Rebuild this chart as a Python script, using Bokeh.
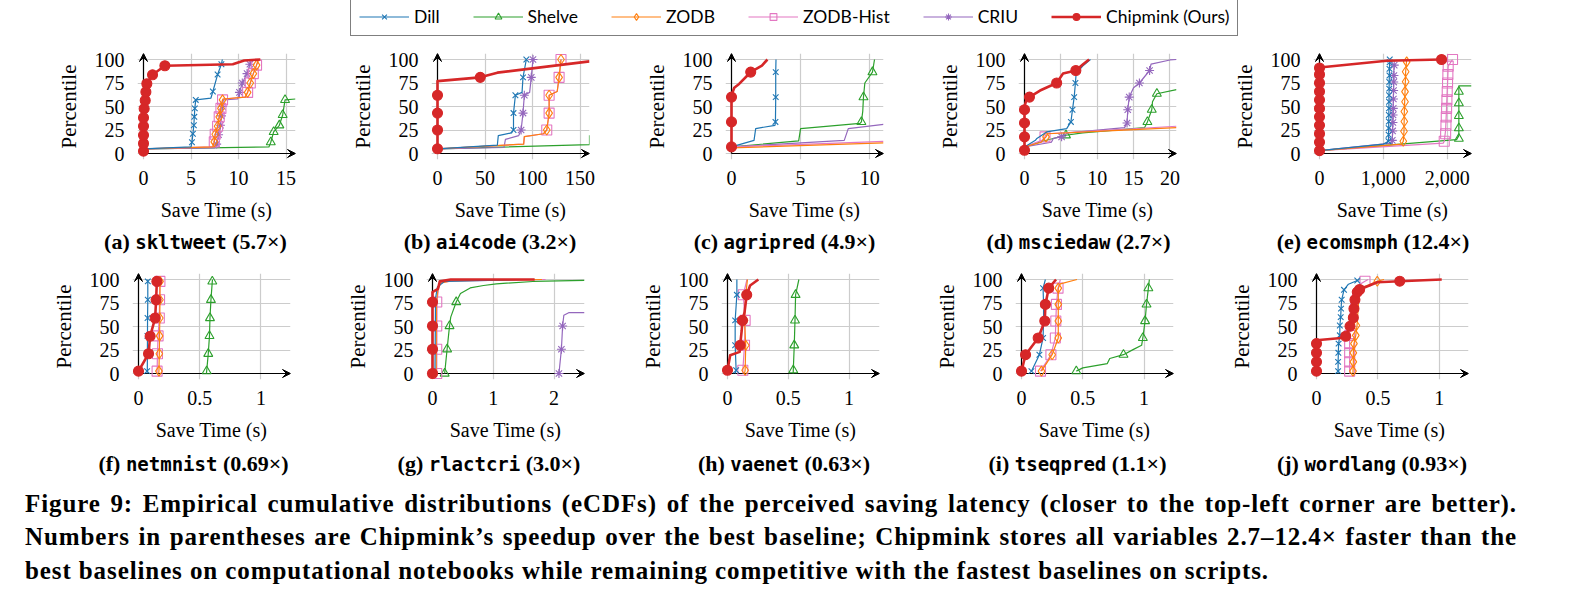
from bokeh.plotting import figure
from bokeh.models import (Range1d, FixedTicker, PrintfTickFormatter, NumeralTickFormatter,
                          Arrow, VeeHead, Legend, LegendItem, Div, Spacer)
from bokeh.layouts import row, column
from bokeh.embed import file_html
from bokeh.resources import INLINE

# ---------------- data ----------------
Y_TICKS = [0, 25, 50, 75, 100]

# (a) skltweet
A_XMAX = 16.0
A_XTICKS = [0, 5, 10, 15]
A_CHIP = ([0, 0, 0.07, 0.18, 0.25, 0.35, 0.95, 2.25, 9.4, 10.6, 12.3],
          [2.5, 38, 47.7, 56.5, 65.4, 74.2, 83.7, 93.3, 95, 99, 100])
A_CHIP_M = ([0, 0, 0, 0, 0, 0.07, 0.18, 0.25, 0.35, 0.95, 2.25],
            [2.5, 10.6, 19.4, 29, 38, 47.7, 56.5, 65.4, 74.2, 83.7, 93.3])
A_DILL = ([0, 5.0, 5.1, 5.2, 5.3, 5.35, 5.4, 5.5, 7.1, 7.3, 7.8, 8.2, 8.3],
          [5, 7, 12, 21, 30, 39, 48, 57, 59, 66, 84, 95, 100])
A_DILL_M = ([5.1, 5.2, 5.3, 5.35, 5.4, 5.5, 7.3, 7.8, 8.2],
            [12, 21, 30, 39, 48, 57, 66, 84, 95])
A_ZODB = ([0, 7.3, 7.45, 7.55, 7.8, 7.97, 8.15, 8.32, 8.4, 10.7, 10.96, 11.24, 11.56, 11.9, 12.1],
          [5, 7, 12.4, 20.5, 29, 39, 48, 57, 58, 60, 65, 75, 85, 94, 100])
A_ZODB_M = ([7.45, 7.55, 7.8, 7.97, 8.15, 8.32, 10.96, 11.24, 11.56, 11.9],
            [12.4, 20.5, 29, 39, 48, 57, 65, 75, 85, 94])
A_HIST = ([0, 7.3, 7.45, 7.55, 7.8, 7.97, 8.15, 8.32, 8.4, 10.7, 10.96, 11.24, 11.56, 11.9, 12.1],
          [5, 7, 12.4, 20.5, 29, 39, 48, 57, 58, 60, 65, 75, 85, 94, 100])
A_HIST_M = ([7.45, 7.55, 7.8, 7.97, 8.15, 8.32, 10.96, 11.24, 11.56, 11.9],
            [12.4, 20.5, 29, 39, 48, 57, 65, 75, 85, 94])
A_CRIU = ([0, 7.5, 7.7, 7.9, 8.1, 8.2, 8.3, 8.4, 9.9, 10.1, 10.4, 10.9, 11.2, 11.4],
          [5, 6, 10, 20, 30, 40, 50, 57, 58, 65, 75, 85, 95, 100])
A_CRIU_M = ([7.7, 7.9, 8.1, 8.2, 8.3, 10.1, 10.4, 10.9, 11.2],
            [10, 20, 30, 40, 50, 65, 75, 85, 95])
A_SHELVE = ([0, 13.2, 13.4, 13.7, 14.3, 14.65, 14.9, 16.0],
            [5, 7, 12, 23, 30, 41, 57, 58])
A_SHELVE_M = ([13.4, 13.7, 14.3, 14.65, 14.9], [12, 23, 30, 41, 57])

# (b) ai4code
B_XMAX = 160.0
B_XTICKS = [0, 50, 100, 150]
B_CHIP = ([0, 0, 45, 63, 160], [5, 77, 81, 86, 98])
B_CHIP_M = ([0, 0, 0, 0, 45], [5, 25, 43, 62, 81])
B_DILL = ([0, 63, 64, 78, 80, 80, 82, 89, 90, 93.5], [5, 9, 19, 22, 25, 43, 62, 65, 81, 100])
B_DILL_M = ([80, 80, 82, 90, 93.5], [25, 43, 62, 81, 100])
B_CRIU = ([0, 70, 71.5, 85.5, 88, 90, 91.4, 97, 98.7, 100.5], [5, 6.4, 15, 19, 25, 43, 62, 65, 81, 100])
B_CRIU_M = ([88, 90, 91.4, 98.7, 100.5], [25, 43, 62, 81, 100])
B_ZODB = ([0, 90.7, 91.4, 111.6, 115, 117.5, 117.5, 126, 128, 130], [5, 10, 18, 21, 25, 43, 62, 66, 81, 100])
B_ZODB_M = ([115, 117.5, 117.5, 128, 130], [25, 43, 62, 81, 100])
B_HIST = ([0, 90.7, 91.4, 111.6, 115, 117.5, 117.5, 126, 128, 130], [5, 10, 18, 21, 25, 43, 62, 66, 81, 100])
B_HIST_M = ([115, 117.5, 117.5, 128, 130], [25, 43, 62, 81, 100])
B_SHELVE = ([0, 160, 160], [5, 9.5, 19.5])

# (c) agripred
C_XMAX = 11.0
C_XTICKS = [0, 5, 10]
C_CHIP = ([0, 0, 0.2, 0.55, 1.15, 1.39, 2.2, 2.6], [7, 62, 70, 74, 83, 86.6, 93.6, 100])
C_CHIP_M = ([0, 0, 0, 1.39], [7, 33.6, 60, 86.6])
C_DILL = ([0, 1.63, 1.75, 3.15, 3.18, 3.2, 3.2, 3.22], [7, 14, 26.5, 30, 33.6, 60, 86.6, 100])
C_DILL_M = ([3.18, 3.2, 3.2], [33.6, 60, 86.6])
C_SHELVE = ([0, 4.86, 5.0, 9.3, 9.4, 9.5, 9.55, 9.65, 10.2, 10.35], [7, 13.4, 26.5, 32, 33.6, 45, 60, 75, 86.6, 100])
C_SHELVE_M = ([9.4, 9.55, 10.2], [33.6, 60, 86.6])
C_CRIU = ([0, 8.16, 8.45, 11.0], [7, 14, 26.5, 31])
C_HIST = ([0, 11.0], [7, 13])
C_ZODB = ([0, 11.0], [6, 11.3])

# (d) msciedaw
D_XMAX = 20.9
D_XTICKS = [0, 5, 10, 15, 20]
D_CHIP = ([0, 0, 0.3, 0.68, 2.14, 4.42, 5.3, 7.06, 8.06, 8.88], [0, 50, 58, 60, 67, 75, 85, 88.3, 95, 100])
D_CHIP_M = ([0, 0, 0, 0, 0.68, 4.42, 7.06], [3.5, 17.7, 32.5, 46.6, 60, 75, 88.3])
D_DILL = ([0, 1.5, 1.7, 3.05, 5.8, 6.38, 6.6, 6.83, 7.0, 7.1, 8.0, 9.07],
          [7, 14, 16, 23, 26.5, 33.6, 46.6, 60, 75, 85, 93, 100])
D_DILL_M = ([6.38, 6.6, 6.83, 7.0], [33.6, 46.6, 60, 75])
D_ZODB = ([0, 2.3, 2.96, 3.2, 10, 20.9], [7, 12, 17.7, 21, 23.5, 27.5])
D_ZODB_M = ([2.96], [17.7])
D_HIST = ([0, 2.4, 2.8, 3.0, 10, 20.9], [7, 14, 17.7, 21, 24, 29])
D_HIST_M = ([2.82], [17.7])
D_CRIU = ([0, 3.7, 3.96, 5.1, 6, 13.76, 14.1, 14.2, 14.4, 15, 15.8, 17.2, 17.4, 20, 20.9],
          [7, 12, 16, 17.7, 22, 27.5, 32.5, 46.6, 60, 70, 75, 88.3, 95, 99.5, 100])
D_CRIU_M = ([5.1, 14.1, 14.2, 14.4, 15.8, 17.2], [17.7, 32.5, 46.6, 60, 75, 88.3])
D_SHELVE = ([0, 2.5, 5.7, 8, 16.5, 16.9, 17.5, 17.6, 18.2, 20.9], [7, 13, 19.4, 22, 27.5, 33.6, 46.6, 55, 63.6, 68])
D_SHELVE_M = ([5.7, 16.9, 17.5, 18.2], [19.4, 33.6, 46.6, 63.6])

# (e) ecomsmph
E_XMAX = 2380.0
E_XTICKS = [0, 1000, 2000]
E_CHIP = ([0, 0, 1052, 1911], [3, 91.5, 98.6, 100])
E_CHIP_M = ([0, 0, 0, 0, 0, 0, 0, 0, 0, 0, 0, 1911],
            [3, 12, 21, 30, 39, 48, 57, 66, 75, 84, 91, 100])
E_DILL = ([0, 1000, 1080, 1085, 1090, 1095, 1100], [3, 10, 13, 40, 70, 90, 100])
E_DILL_M = ([1080, 1082, 1083, 1085, 1086, 1088, 1089, 1090, 1092, 1093, 1095, 1096, 1098, 1100],
            [13, 20, 27, 34, 41, 48, 55, 62, 69, 76, 83, 90, 97, 100])
E_CRIU = ([0, 1130, 1140, 1150, 1160, 1165, 1170], [3, 11, 14, 40, 70, 90, 95])
E_CRIU_M = ([1140, 1145, 1150, 1152, 1155, 1157, 1160, 1162, 1165, 1170],
            [14, 24, 33, 41, 48, 58, 67, 76, 83, 94])
E_ZODB = ([0, 1286, 1312, 1323, 1328, 1339, 1349, 1365], [3, 10, 13, 23.6, 44.7, 65.8, 87, 100])
E_ZODB_M = ([1312, 1323, 1328, 1328, 1339, 1339, 1349, 1349, 1365],
            [13, 23.6, 34, 44.7, 55, 65.8, 76.4, 87, 97.5])
E_HIST = ([0, 1937, 1953, 1975, 1990, 2005, 2015, 2083], [3, 11, 13, 25, 50, 75, 93, 100])
E_HIST_M = ([1953, 1975, 1980, 1985, 1990, 1995, 2000, 2005, 2010, 2015, 2083],
            [13, 21, 30, 39, 48, 57, 66, 75, 84, 93, 100])
E_SHELVE = ([0, 2146, 2182, 2182, 2182, 2380], [3, 14.8, 19, 66, 72, 72])
E_SHELVE_M = ([2182, 2182, 2182, 2182, 2182], [15.8, 27, 40, 53.5, 65.8])

# (f) netmnist
F_XMAX = 1.242
F_XTICKS = [0, 0.5, 1]
F_CHIP = ([0, 0.082, 0.095, 0.136, 0.144, 0.15], [2.5, 21, 39.6, 59, 78.4, 98])
F_CHIP_M = ([0, 0.082, 0.095, 0.136, 0.144, 0.15], [2.5, 21, 39.6, 59, 78.4, 98])
F_DILL = ([0.07, 0.072, 0.074, 0.076, 0.076], [0, 2.5, 59, 78.4, 100])
F_DILL_M = ([0.07, 0.072, 0.073, 0.074, 0.076, 0.076], [2.5, 21, 40, 59, 78.4, 98])
F_ZODB = ([0.165, 0.167, 0.17, 0.172, 0.174, 0.175, 0.176], [0, 2.5, 21, 40, 59, 78.4, 100])
F_ZODB_M = ([0.167, 0.17, 0.172, 0.174, 0.175, 0.176], [2.5, 21, 40, 59, 78.4, 98])
F_HIST = ([0.15, 0.152, 0.155, 0.16, 0.17, 0.172, 0.175], [0, 2.5, 21, 40, 59, 78.4, 100])
F_HIST_M = ([0.152, 0.155, 0.16, 0.17, 0.172, 0.175], [2.5, 21, 40, 59, 78.4, 98])
F_SHELVE = ([0.555, 0.557, 0.57, 0.58, 0.584, 0.592, 0.603, 0.605], [0, 2.5, 21, 40, 59, 78.4, 98, 100])
F_SHELVE_M = ([0.557, 0.57, 0.58, 0.584, 0.592, 0.603], [2.5, 21, 40, 59, 78.4, 98])

# (g) rlactcri
G_XMAX = 2.5
G_XTICKS = [0, 1, 2]
G_CHIP = ([0, 0, 0.09, 0.12, 0.3, 1.68], [0, 86.6, 90, 98, 100, 100])
G_CHIP_M = ([0, 0, 0, 0], [0, 25.8, 50.5, 76])
G_HIST = ([0.07, 0.075, 0.1, 0.15, 0.35, 1.86], [0, 76, 92, 97, 98.5, 100])
G_HIST_M = ([0.07, 0.07, 0.07, 0.07], [0, 25.8, 50.5, 76])
G_ZODB = ([0.06, 0.065, 0.09, 0.13, 0.3, 1.8], [0, 76, 90, 96, 98.5, 100])
G_DILL = ([0.04, 0.05, 0.08, 0.2, 1.5], [0, 80, 92, 98, 100])
G_SHELVE = ([0.2, 0.24, 0.28, 0.3, 0.39, 0.46, 0.62, 0.84, 1.05, 1.65, 2.5],
            [0, 25.8, 50.5, 60, 76, 85, 91, 93.6, 95.4, 97.9, 99])
G_SHELVE_M = ([0.2, 0.24, 0.28, 0.39], [0, 25.8, 50.5, 76])
G_CRIU = ([2.08, 2.12, 2.14, 2.16, 2.24, 2.5], [0, 25.8, 50.5, 62, 64.7, 64.7])
G_CRIU_M = ([2.08, 2.12, 2.14], [0, 25.8, 50.5])

# (h) vaenet
H_XMAX = 1.25
H_XTICKS = [0, 0.5, 1]
H_CHIP = ([0, 0.022, 0.1, 0.104, 0.117, 0.123, 0.14, 0.158, 0.186, 0.254],
          [3.5, 19.4, 23, 30, 46, 56.5, 65, 83.7, 93.6, 100])
H_CHIP_M = ([0, 0.104, 0.123, 0.158], [3.5, 30, 56.5, 83.7])
H_DILL = ([0.063, 0.071, 0.063, 0.063, 0.077, 0.077], [0, 3.5, 30, 56.5, 83.7, 100])
H_DILL_M = ([0.071, 0.063, 0.063, 0.077], [3.5, 30, 56.5, 83.7])
H_ZODB = ([0.14, 0.145, 0.15, 0.14, 0.15, 0.164], [0, 3.5, 30, 56.5, 83.7, 100])
H_ZODB_M = ([0.145, 0.15, 0.14, 0.15], [3.5, 30, 56.5, 83.7])
H_HIST = ([0.126, 0.126, 0.14, 0.145, 0.13, 0.16], [0, 3.5, 30, 56.5, 83.7, 100])
H_HIST_M = ([0.126, 0.14, 0.145, 0.13], [3.5, 30, 56.5, 83.7])
H_SHELVE = ([0.54, 0.541, 0.549, 0.555, 0.56, 0.587], [0, 3.5, 30, 56.5, 83.7, 100])
H_SHELVE_M = ([0.541, 0.549, 0.555, 0.56], [3.5, 30, 56.5, 83.7])

# (i) tseqpred
I_XMAX = 1.24
I_XTICKS = [0, 0.5, 1]
I_CHIP = ([0, 0.033, 0.136, 0.19, 0.195, 0.222, 0.282], [2.5, 20, 37.8, 55.8, 73.5, 90.8, 100])
I_CHIP_M = ([0, 0.033, 0.136, 0.19, 0.195, 0.222], [2.5, 20, 37.8, 55.8, 73.5, 90.8])
I_DILL = ([0.081, 0.146, 0.176, 0.18, 0.18, 0.176, 0.195], [2.5, 20, 37.8, 55.8, 73.5, 90.8, 100])
I_DILL_M = ([0.081, 0.146, 0.176, 0.18, 0.18, 0.176], [2.5, 20, 37.8, 55.8, 73.5, 90.8])
I_ZODB = ([0.163, 0.25, 0.3, 0.3, 0.3, 0.3, 0.317, 0.453], [2.5, 20, 37.8, 55.8, 73.5, 90.8, 95.4, 100])
I_ZODB_M = ([0.163, 0.25, 0.3, 0.3, 0.3, 0.3], [2.5, 20, 37.8, 55.8, 73.5, 90.8])
I_HIST = ([0.155, 0.24, 0.276, 0.28, 0.285, 0.298, 0.317], [2.5, 20, 37.8, 55.8, 73.5, 90.8, 100])
I_HIST_M = ([0.155, 0.24, 0.276, 0.28, 0.285, 0.298], [2.5, 20, 37.8, 55.8, 73.5, 90.8])
I_SHELVE = ([0.447, 0.5, 0.7, 0.72, 0.832, 0.91, 0.98, 0.99, 1.008, 1.02, 1.035, 1.043],
            [2.5, 6, 10.6, 16, 20, 25.4, 30, 37.8, 55.8, 73.5, 90.8, 100])
I_SHELVE_M = ([0.447, 0.832, 0.99, 1.008, 1.02, 1.035], [2.5, 20, 37.8, 55.8, 73.5, 90.8])

# (j) wordlang
J_XMAX = 1.238
J_XTICKS = [0, 0.5, 1]
J_CHIP = ([0, 0, 0.224, 0.238, 0.273, 0.3, 0.305, 0.313, 0.332, 0.351, 0.495, 0.678, 1.02],
          [2.5, 35.3, 38, 39.6, 50.2, 59.4, 69, 78.4, 86.6, 89.4, 97, 98.2, 100])
J_CHIP_M = ([0, 0, 0, 0, 0.238, 0.273, 0.3, 0.305, 0.313, 0.332, 0.351, 0.678],
            [2.5, 12.4, 22, 31.8, 39.6, 50.2, 59.4, 69, 78.4, 86.6, 89.4, 98.2])
J_DILL = ([0.176, 0.176, 0.178, 0.18, 0.19, 0.19, 0.197, 0.2, 0.205, 0.224, 0.26, 0.332, 0.35],
          [0, 12.4, 22, 31.8, 40.6, 51, 60, 69, 78.4, 89, 95, 99, 100])
J_DILL_M = ([0.176, 0.176, 0.178, 0.18, 0.19, 0.19, 0.197, 0.2, 0.205, 0.224, 0.332],
            [2.5, 12.4, 22, 31.8, 40.6, 51, 60, 69, 78.4, 89, 99])
J_HIST = ([0.27, 0.27, 0.272, 0.275, 0.3, 0.33, 0.395, 0.42], [0, 40, 55, 70, 88, 93, 98.2, 100])
J_HIST_M = ([0.27, 0.27, 0.27, 0.27, 0.27, 0.395], [2.5, 12.4, 22, 31.8, 40.6, 98.2])
J_ZODB = ([0.297, 0.3, 0.3, 0.305, 0.32, 0.33, 0.35, 0.495, 0.55], [0, 12.4, 22, 31.8, 40.6, 51, 90, 98.2, 100])
J_ZODB_M = ([0.297, 0.3, 0.3, 0.305, 0.32, 0.325, 0.495], [2.5, 12.4, 22, 31.8, 40.6, 51, 98.2])

PANEL_LETTERS = ["a", "b", "c", "d", "e", "f", "g", "h", "i", "j"]
PANEL_NAMES = ["skltweet", "ai4code", "agripred", "msciedaw", "ecomsmph",
               "netmnist", "rlactcri", "vaenet", "tseqpred", "wordlang"]
PANEL_SPEEDUPS = ["5.7", "3.2", "4.9", "2.7", "12.4", "0.69", "3.0", "0.63", "1.1", "0.93"]

SERIES_LABELS = ["Dill", "Shelve", "ZODB", "ZODB-Hist", "CRIU", "Chipmink (Ours)"]

# ---------------- styling ----------------
STYLE = {
    "dill":   dict(color="#1f77b4", marker="x",        size=8, lw=1.2, fill=None),
    "shelve": dict(color="#2ca02c", marker="triangle", size=9, lw=1.2, fill=None),
    "zodb":   dict(color="#ff7f0e", marker="diamond",  size=10, lw=1.2, fill=None),
    "hist":   dict(color="#e377c2", marker="square",   size=10, lw=1.2, fill=None),
    "criu":   dict(color="#9467bd", marker="asterisk", size=9, lw=1.2, fill=None),
    "chip":   dict(color="#d62728", marker="circle",   size=10, lw=2.6, fill="#d62728"),
}
LEGEND_KEYS = ["dill", "shelve", "zodb", "hist", "criu", "chip"]
DRAW_ORDER = ["shelve", "criu", "hist", "zodb", "dill", "chip"]

PANELS = [
    dict(xmax=A_XMAX, xticks=A_XTICKS, lines=dict(chip=A_CHIP, dill=A_DILL, zodb=A_ZODB, hist=A_HIST, criu=A_CRIU, shelve=A_SHELVE),
         marks=dict(chip=A_CHIP_M, dill=A_DILL_M, zodb=A_ZODB_M, hist=A_HIST_M, criu=A_CRIU_M, shelve=A_SHELVE_M)),
    dict(xmax=B_XMAX, xticks=B_XTICKS, lines=dict(chip=B_CHIP, dill=B_DILL, zodb=B_ZODB, hist=B_HIST, criu=B_CRIU, shelve=B_SHELVE),
         marks=dict(chip=B_CHIP_M, dill=B_DILL_M, zodb=B_ZODB_M, hist=B_HIST_M, criu=B_CRIU_M)),
    dict(xmax=C_XMAX, xticks=C_XTICKS, lines=dict(chip=C_CHIP, dill=C_DILL, zodb=C_ZODB, hist=C_HIST, criu=C_CRIU, shelve=C_SHELVE),
         marks=dict(chip=C_CHIP_M, dill=C_DILL_M, shelve=C_SHELVE_M)),
    dict(xmax=D_XMAX, xticks=D_XTICKS, lines=dict(chip=D_CHIP, dill=D_DILL, zodb=D_ZODB, hist=D_HIST, criu=D_CRIU, shelve=D_SHELVE),
         marks=dict(chip=D_CHIP_M, dill=D_DILL_M, zodb=D_ZODB_M, hist=D_HIST_M, criu=D_CRIU_M, shelve=D_SHELVE_M)),
    dict(xmax=E_XMAX, xticks=E_XTICKS, lines=dict(chip=E_CHIP, dill=E_DILL, zodb=E_ZODB, hist=E_HIST, criu=E_CRIU, shelve=E_SHELVE),
         marks=dict(chip=E_CHIP_M, dill=E_DILL_M, zodb=E_ZODB_M, hist=E_HIST_M, criu=E_CRIU_M, shelve=E_SHELVE_M)),
    dict(xmax=F_XMAX, xticks=F_XTICKS, lines=dict(chip=F_CHIP, dill=F_DILL, zodb=F_ZODB, hist=F_HIST, shelve=F_SHELVE),
         marks=dict(chip=F_CHIP_M, dill=F_DILL_M, zodb=F_ZODB_M, hist=F_HIST_M, shelve=F_SHELVE_M)),
    dict(xmax=G_XMAX, xticks=G_XTICKS, lines=dict(chip=G_CHIP, dill=G_DILL, zodb=G_ZODB, hist=G_HIST, criu=G_CRIU, shelve=G_SHELVE),
         marks=dict(chip=G_CHIP_M, hist=G_HIST_M, criu=G_CRIU_M, shelve=G_SHELVE_M)),
    dict(xmax=H_XMAX, xticks=H_XTICKS, lines=dict(chip=H_CHIP, dill=H_DILL, zodb=H_ZODB, hist=H_HIST, shelve=H_SHELVE),
         marks=dict(chip=H_CHIP_M, dill=H_DILL_M, zodb=H_ZODB_M, hist=H_HIST_M, shelve=H_SHELVE_M)),
    dict(xmax=I_XMAX, xticks=I_XTICKS, lines=dict(chip=I_CHIP, dill=I_DILL, zodb=I_ZODB, hist=I_HIST, shelve=I_SHELVE),
         marks=dict(chip=I_CHIP_M, dill=I_DILL_M, zodb=I_ZODB_M, hist=I_HIST_M, shelve=I_SHELVE_M)),
    dict(xmax=J_XMAX, xticks=J_XTICKS, lines=dict(chip=J_CHIP, dill=J_DILL, zodb=J_ZODB, hist=J_HIST),
         marks=dict(chip=J_CHIP_M, dill=J_DILL_M, zodb=J_ZODB_M, hist=J_HIST_M)),
]

# ---------------- geometry ----------------
FW, FH = 158, 106          # frame size in px
PAD = 6                    # px left of x=0 / below y=0
SPAN = FW - PAD            # px from x=0 to the arrow tip
PX_PER_PCT = 0.94
YLO = -PAD / PX_PER_PCT
YHI = YLO + FH / PX_PER_PCT
ROW1_LEFT = [137, 116, 116, 115, 117]
ROW2_LEFT = [132, 116, 117, 116, 117]
SERIF = "Liberation Serif"


def make_panel(spec, left, top):
    xmax = spec["xmax"]
    xlo = -xmax * PAD / SPAN
    p = figure(frame_width=FW, frame_height=FH,
               x_range=Range1d(xlo, xmax), y_range=Range1d(YLO, YHI),
               min_border_left=left, min_border_right=20,
               min_border_top=top, min_border_bottom=66,
               output_backend="svg", toolbar_location=None,
               outline_line_color=None, background_fill_color="white",
               border_fill_color="white")
    p.xaxis.ticker = FixedTicker(ticks=spec["xticks"])
    p.yaxis.ticker = FixedTicker(ticks=Y_TICKS)
    p.xgrid.ticker = FixedTicker(ticks=spec["xticks"])
    p.ygrid.ticker = FixedTicker(ticks=Y_TICKS)
    if xmax > 1000:
        p.xaxis.formatter = NumeralTickFormatter(format="0,0")
    else:
        p.xaxis.formatter = PrintfTickFormatter(format="%g")
    p.grid.grid_line_color = "#cccccc"
    p.grid.grid_line_width = 1.2
    p.axis.axis_line_color = None
    p.axis.major_tick_line_color = None
    p.axis.minor_tick_line_color = None
    p.axis.major_label_text_font = SERIF
    p.axis.major_label_text_font_size = "20px"
    p.axis.major_label_text_color = "black"
    p.xaxis.major_label_standoff = 5
    p.yaxis.major_label_standoff = 7
    p.xaxis.axis_label = "Save Time (s)"
    p.yaxis.axis_label = "Percentile"
    p.axis.axis_label_text_font = SERIF
    p.xaxis.axis_label_text_font_size = "20px"
    p.yaxis.axis_label_text_font_size = "21px"
    p.axis.axis_label_text_font_style = "normal"
    p.axis.axis_label_text_color = "black"
    p.xaxis.axis_label_standoff = 11
    p.yaxis.axis_label_standoff = 11

    for arrow in (Arrow(end=VeeHead(size=8, line_color="black", fill_color="black"),
                        x_start=0, y_start=0, x_end=xmax, y_end=0,
                        line_color="black", line_width=1.2),
                  Arrow(end=VeeHead(size=8, line_color="black", fill_color="black"),
                        x_start=0, y_start=0, x_end=0, y_end=YHI,
                        line_color="black", line_width=1.2)):
        arrow.level = "underlay"
        p.add_layout(arrow)

    for key in DRAW_ORDER:
        st = STYLE[key]
        if key in spec["lines"]:
            xs, ys = spec["lines"][key]
            p.line(xs, ys, line_color=st["color"], line_width=st["lw"], line_join="round")
        if key in spec["marks"]:
            mx, my = spec["marks"][key]
            p.scatter(mx, my, marker=st["marker"], size=st["size"],
                      line_color=st["color"], fill_color=st["fill"], line_width=1.1)
    return p


figs = []
for i, spec in enumerate(PANELS):
    if i < 5:
        figs.append(make_panel(spec, ROW1_LEFT[i], 13))
    else:
        figs.append(make_panel(spec, ROW2_LEFT[i - 5], 15))

# ---------------- legend strip ----------------
# legend-only renderers: their single sample lies outside the visible range
LEGEND_SAMPLE_X = [-5, -4]
LEGEND_SAMPLE_Y = [-5, -5]
lg = figure(width=1578, height=40, x_range=Range1d(0, 1), y_range=Range1d(0, 1),
            x_axis_location=None, y_axis_location=None, min_border=0,
            outline_line_color=None, output_backend="svg", toolbar_location=None)
lg.grid.visible = False
items = []
for key, label in zip(LEGEND_KEYS, SERIES_LABELS):
    st = STYLE[key]
    rl = lg.line(x=LEGEND_SAMPLE_X, y=LEGEND_SAMPLE_Y, line_color=st["color"], line_width=st["lw"])
    rm = lg.scatter(x=LEGEND_SAMPLE_X[:1], y=LEGEND_SAMPLE_Y[:1], marker=st["marker"], size=st["size"],
                    line_color=st["color"], fill_color=st["fill"], line_width=1.1)
    items.append(LegendItem(label=label, renderers=[rl, rm]))
legend = Legend(items=items, orientation="horizontal", location=(350, 4),
                glyph_width=50, glyph_height=17, label_height=17, label_standoff=5,
                spacing=33, padding=8, margin=0,
                border_line_color="black", border_line_width=1,
                label_text_font="Lato", label_text_font_size="17.5px",
                label_text_color="black", background_fill_alpha=1)
lg.add_layout(legend)

# ---------------- sub-captions ----------------
def subcap(letter, name, speed, w, h):
    html = (f'<div style="width:{w}px;height:{h}px;line-height:{h}px;text-align:center;'
            f'white-space:nowrap;color:black;">'
            f'<span style="font-family:\'{SERIF}\';font-weight:bold;font-size:22px;">({letter}) </span>'
            f'<span style="font-family:\'DejaVu Sans Mono\';font-weight:bold;font-size:19px;">{name}</span>'
            f'<span style="font-family:\'{SERIF}\';font-weight:bold;font-size:22px;"> ({speed}\u00d7)</span>'
            f'</div>')
    return Div(text=html, width=w, height=h, margin=(0, 0, 0, 0))

ROW1_CAP_W = [293, 296, 293, 295, 294]
ROW2_CAP_W = [293, 298, 292, 295, 294]
cap_row1 = row([Spacer(width=49, height=33)] +
               [subcap(PANEL_LETTERS[i], PANEL_NAMES[i], PANEL_SPEEDUPS[i], ROW1_CAP_W[i], 33) for i in range(5)])
cap_row2 = row([Spacer(width=47, height=38)] +
               [subcap(PANEL_LETTERS[i + 5], PANEL_NAMES[i + 5], PANEL_SPEEDUPS[i + 5], ROW2_CAP_W[i], 38) for i in range(5)])

# ---------------- figure caption ----------------
CAPTION_LINES = [
    "Figure 9: Empirical cumulative distributions (eCDFs) of the perceived saving latency (closer to the top-left corner are better).",
    "Numbers in parentheses are Chipmink\u2019s speedup over the best baseline; Chipmink stores all variables 2.7\u201312.4\u00d7 faster than the",
    "best baselines on computational notebooks while remaining competitive with the fastest baselines on scripts.",
]
cap_html = (f'<div style="padding-top:4px;padding-left:25px;width:1517px;font-family:\'{SERIF}\';'
            f'font-weight:bold;font-size:25px;letter-spacing:0.9px;line-height:33.3px;color:black;">'
            f'<div style="text-align:justify;text-align-last:justify;white-space:nowrap;">{CAPTION_LINES[0]}</div>'
            f'<div style="text-align:justify;text-align-last:justify;">{CAPTION_LINES[1]}</div>'
            f'<div style="text-align:left;">{CAPTION_LINES[2]}</div>'
            f'</div>')
caption = Div(text=cap_html, width=1578, height=110, margin=(0, 0, 0, 0))

layout = column(lg, row(figs[:5]), cap_row1, row(figs[5:]), cap_row2, caption)

open("out.html", "w").write(file_html(layout, INLINE))
